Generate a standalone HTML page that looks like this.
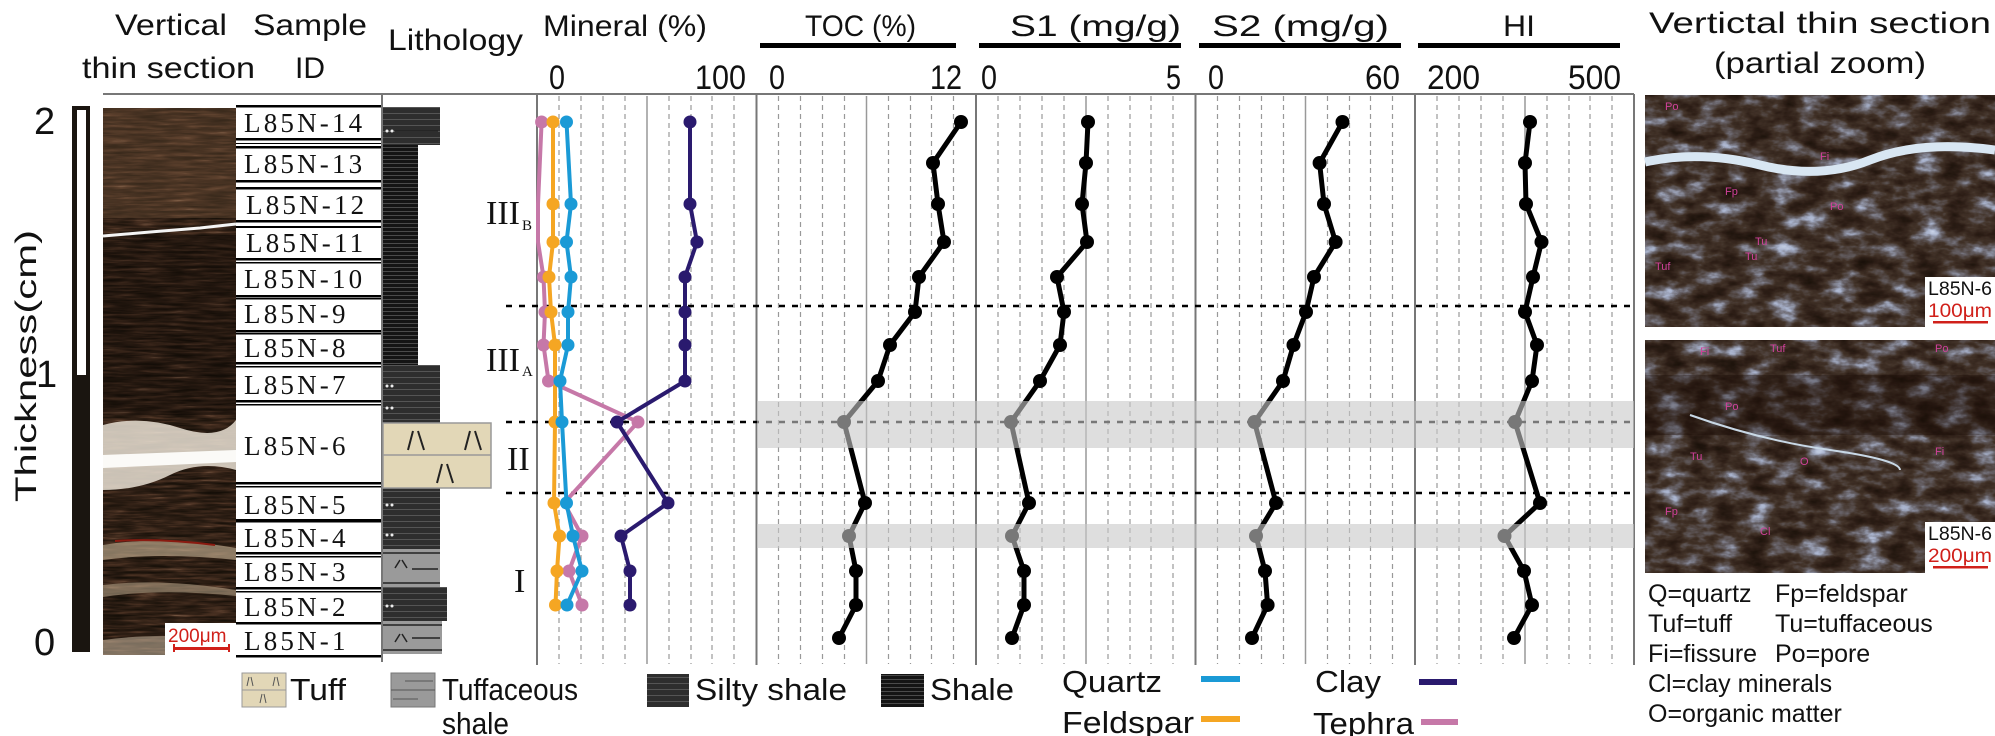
<!DOCTYPE html>
<html><head><meta charset="utf-8"><style>
html,body{margin:0;padding:0;background:#fff;}
svg{display:block;}
text{font-family:"Liberation Sans",sans-serif;fill:#111;}
text.sf{font-family:"Liberation Serif",serif;}
</style></head><body>
<svg width="1995" height="736" viewBox="0 0 1995 736" xmlns="http://www.w3.org/2000/svg">
<defs>
<filter id="texL" x="0" y="0" width="100%" height="100%" color-interpolation-filters="sRGB">
 <feTurbulence type="fractalNoise" baseFrequency="0.03 0.35" numOctaves="3" seed="5"/>
 <feColorMatrix type="matrix" values="1 0 0 0 0 1 0 0 0 0 1 0 0 0 0 0 0 0 0 1"/>
 <feComponentTransfer>
  <feFuncR type="table" tableValues="0.06 0.1 0.18 0.3 0.55"/>
  <feFuncG type="table" tableValues="0.04 0.07 0.12 0.2 0.42"/>
  <feFuncB type="table" tableValues="0.02 0.04 0.08 0.14 0.33"/>
 </feComponentTransfer>
</filter>
<filter id="texR" x="0" y="0" width="100%" height="100%" color-interpolation-filters="sRGB">
 <feTurbulence type="fractalNoise" baseFrequency="0.035 0.07" numOctaves="4" seed="3"/>
 <feColorMatrix type="matrix" values="1 0 0 0 0 1 0 0 0 0 1 0 0 0 0 0 0 0 0 1"/>
 <feComponentTransfer>
  <feFuncR type="table" tableValues="0.08 0.12 0.18 0.26 0.4 0.66 0.82"/>
  <feFuncG type="table" tableValues="0.05 0.08 0.12 0.2 0.38 0.7 0.86"/>
  <feFuncB type="table" tableValues="0.03 0.05 0.09 0.16 0.4 0.8 0.94"/>
 </feComponentTransfer>
</filter>
<pattern id="silty" width="60" height="6" patternUnits="userSpaceOnUse">
 <rect width="60" height="6" fill="#2e2e2e"/><rect y="5" width="60" height="1" fill="#555"/>
</pattern>
<pattern id="shale" width="60" height="4" patternUnits="userSpaceOnUse">
 <rect width="60" height="4" fill="#141414"/><rect y="3" width="60" height="1" fill="#4a4a4a"/>
</pattern>
</defs>

<text x="115" y="35" font-size="30" textLength="112" lengthAdjust="spacingAndGlyphs">Vertical</text>
<text x="82" y="78" font-size="30" textLength="173" lengthAdjust="spacingAndGlyphs">thin section</text>
<text x="253" y="35" font-size="30" textLength="114" lengthAdjust="spacingAndGlyphs">Sample</text>
<text x="295" y="78" font-size="30" textLength="30" lengthAdjust="spacingAndGlyphs">ID</text>
<text x="388" y="50" font-size="30" textLength="135" lengthAdjust="spacingAndGlyphs">Lithology</text>

<text x="543" y="36" font-size="30" textLength="164" lengthAdjust="spacingAndGlyphs">Mineral (%)</text>
<text x="805" y="36" font-size="30" textLength="111" lengthAdjust="spacingAndGlyphs">TOC (%)</text>
<text x="1010" y="36" font-size="30" textLength="171" lengthAdjust="spacingAndGlyphs">S1 (mg/g)</text>
<text x="1212" y="36" font-size="30" textLength="177" lengthAdjust="spacingAndGlyphs">S2 (mg/g)</text>
<text x="1503" y="36" font-size="30" textLength="32" lengthAdjust="spacingAndGlyphs">HI</text>
<g fill="#000">
<rect x="760" y="43" width="196" height="5"/>
<rect x="979" y="43" width="202" height="5"/>
<rect x="1199" y="43" width="202" height="5"/>
<rect x="1418" y="43" width="202" height="5"/>
</g>
<g font-size="34">
<text x="549" y="89" textLength="16" lengthAdjust="spacingAndGlyphs">0</text>
<text x="695" y="89" textLength="51" lengthAdjust="spacingAndGlyphs">100</text>
<text x="769" y="89" textLength="16" lengthAdjust="spacingAndGlyphs">0</text>
<text x="930" y="89" textLength="32" lengthAdjust="spacingAndGlyphs">12</text>
<text x="981" y="89" textLength="16" lengthAdjust="spacingAndGlyphs">0</text>
<text x="1166" y="89" textLength="15" lengthAdjust="spacingAndGlyphs">5</text>
<text x="1208" y="89" textLength="16" lengthAdjust="spacingAndGlyphs">0</text>
<text x="1365" y="89" textLength="35" lengthAdjust="spacingAndGlyphs">60</text>
<text x="1427" y="89" textLength="53" lengthAdjust="spacingAndGlyphs">200</text>
<text x="1568" y="89" textLength="53" lengthAdjust="spacingAndGlyphs">500</text>
</g>

<line x1="103" y1="94" x2="1634" y2="94" stroke="#777" stroke-width="2"/>

<text x="34" y="134" font-size="38">2</text>
<text x="36" y="387" font-size="38">1</text>
<text x="34" y="655" font-size="38">0</text>
<rect x="72" y="106" width="18" height="546" fill="#1a1510"/>
<rect x="77" y="110" width="9" height="265" fill="#fff"/>
<text transform="translate(36,366) rotate(-90)" font-size="30" text-anchor="middle" textLength="272" lengthAdjust="spacingAndGlyphs">Thickness(cm)</text>

<rect x="103" y="108" width="133" height="547" filter="url(#texL)"/>
<rect x="103" y="108" width="133" height="110" fill="#8a6848" opacity="0.3"/>
<rect x="103" y="235" width="133" height="180" fill="#120a06" opacity="0.3"/>
<path d="M103 236 L150 232 L200 228 L236 224" stroke="#f4f4f4" stroke-width="3" fill="none"/>
<path d="M103 425 Q140 415 180 428 T236 420 L236 470 Q200 460 170 475 T103 490 Z" fill="#e9e1d4" opacity="0.85"/>
<path d="M103 455 L236 450 L236 462 L103 468 Z" fill="#fbfaf7"/>
<path d="M103 545 Q160 535 236 548 L236 560 Q160 552 103 560 Z" fill="#cbb79a" opacity="0.6"/>
<path d="M103 585 Q160 578 236 590 L236 596 Q160 588 103 597 Z" fill="#cbb79a" opacity="0.5"/>
<path d="M103 640 Q160 632 236 640 L236 655 L103 655 Z" fill="#d8c8b0" opacity="0.5"/>
<path d="M115 541 Q160 538 215 545" stroke="#8a1a10" stroke-width="2" fill="none"/>
<rect x="165" y="623" width="71" height="32" fill="#fff"/>
<text x="168" y="642" font-size="19" style="fill:#d0201a">200μm</text>
<rect x="173" y="647" width="57" height="3" fill="#d0201a"/>
<rect x="173" y="644" width="2" height="8" fill="#d0201a"/><rect x="228" y="644" width="2" height="8" fill="#d0201a"/>

<rect x="236" y="104" width="146" height="554" fill="#fff"/>
<g fill="#000">
<rect x="236" y="105" width="146" height="2.5"/>
<rect x="236" y="138" width="146" height="2.5"/><rect x="236" y="143" width="146" height="1"/><rect x="236" y="146" width="146" height="2.5"/>
<rect x="236" y="180" width="146" height="2.5"/><rect x="236" y="187" width="146" height="2.5"/>
<rect x="236" y="220" width="146" height="2.5"/><rect x="236" y="226" width="146" height="2"/>
<rect x="236" y="258" width="146" height="2.5"/><rect x="236" y="262" width="146" height="1.5"/>
<rect x="236" y="295" width="146" height="2.5"/><rect x="236" y="298" width="146" height="1.5"/>
<rect x="236" y="330" width="146" height="2.5"/><rect x="236" y="333" width="146" height="1.5"/>
<rect x="236" y="362" width="146" height="2.5"/><rect x="236" y="366" width="146" height="1.5"/>
<rect x="236" y="400" width="146" height="2.5"/><rect x="236" y="404" width="146" height="1.5"/>
<rect x="236" y="482" width="146" height="2.5"/><rect x="236" y="486" width="146" height="1.5"/>
<rect x="236" y="519" width="146" height="3.5"/>
<rect x="236" y="552" width="146" height="2.5"/><rect x="236" y="556" width="146" height="1.5"/>
<rect x="236" y="587" width="146" height="2.5"/><rect x="236" y="591" width="146" height="1.5"/>
<rect x="236" y="622" width="146" height="2.5"/>
<rect x="236" y="655" width="146" height="2.5"/>
</g>
<g font-size="27" letter-spacing="3.2">
<text class="sf" x="244" y="132">L85N-14</text>
<text class="sf" x="244" y="173">L85N-13</text>
<text class="sf" x="246" y="214">L85N-12</text>
<text class="sf" x="246" y="252">L85N-11</text>
<text class="sf" x="244" y="288">L85N-10</text>
<text class="sf" x="244" y="323">L85N-9</text>
<text class="sf" x="244" y="357">L85N-8</text>
<text class="sf" x="244" y="394">L85N-7</text>
<text class="sf" x="244" y="455">L85N-6</text>
<text class="sf" x="244" y="514">L85N-5</text>
<text class="sf" x="244" y="547">L85N-4</text>
<text class="sf" x="244" y="581">L85N-3</text>
<text class="sf" x="244" y="616">L85N-2</text>
<text class="sf" x="244" y="650">L85N-1</text>
</g>

<line x1="382" y1="94" x2="382" y2="662" stroke="#777" stroke-width="2"/>
<rect x="383" y="107" width="57" height="38" fill="url(#silty)"/>
<rect x="383" y="145" width="35" height="220" fill="url(#shale)"/>
<rect x="383" y="365" width="57" height="58" fill="url(#silty)"/>
<rect x="383" y="488" width="57" height="61" fill="url(#silty)"/>
<rect x="383" y="549" width="57" height="38" fill="#9a9a9a"/>
<rect x="383" y="587" width="64" height="34" fill="url(#silty)"/>
<rect x="383" y="621" width="59" height="33" fill="#9a9a9a"/>
<g fill="#eee">
<circle cx="387" cy="131" r="1.5"/><circle cx="392" cy="131" r="1.5"/>
<circle cx="387" cy="386" r="1.5"/><circle cx="392" cy="386" r="1.5"/>
<circle cx="387" cy="408" r="1.5"/><circle cx="392" cy="408" r="1.5"/>
<circle cx="387" cy="505" r="1.5"/><circle cx="392" cy="505" r="1.5"/>
<circle cx="387" cy="535" r="1.5"/><circle cx="392" cy="535" r="1.5"/>
<circle cx="387" cy="606" r="1.5"/><circle cx="392" cy="606" r="1.5"/>
</g>
<g stroke="#222" stroke-width="1.5">
<line x1="395" y1="131" x2="438" y2="131"/>
<line x1="395" y1="568" x2="400" y2="560"/><line x1="402" y1="560" x2="407" y2="568"/><line x1="412" y1="569" x2="438" y2="569"/>
<line x1="383" y1="583" x2="440" y2="583"/><line x1="383" y1="553" x2="440" y2="553"/>
<line x1="395" y1="642" x2="400" y2="634"/><line x1="402" y1="634" x2="407" y2="642"/><line x1="412" y1="638" x2="440" y2="638"/>
<line x1="383" y1="650" x2="442" y2="650"/><line x1="383" y1="625" x2="442" y2="625"/>
</g>
<rect x="383" y="423" width="108" height="65" fill="#e2d7b7" stroke="#999" stroke-width="1.5"/>
<line x1="383" y1="455" x2="491" y2="455" stroke="#999" stroke-width="1.5"/>
<g stroke="#222" stroke-width="2">
<line x1="408" y1="450" x2="413" y2="431"/><line x1="418" y1="431" x2="424" y2="450"/>
<line x1="465" y1="450" x2="470" y2="431"/><line x1="475" y1="431" x2="481" y2="450"/>
<line x1="437" y1="483" x2="442" y2="464"/><line x1="447" y1="464" x2="453" y2="483"/>
</g>

<text class="sf" x="486" y="224" font-size="34">III</text>
<text class="sf" x="522" y="230" font-size="15">B</text>
<text class="sf" x="486" y="371" font-size="34">III</text>
<text class="sf" x="522" y="376" font-size="15">A</text>
<text class="sf" x="507" y="470" font-size="34">II</text>
<text class="sf" x="514" y="592" font-size="34">I</text>

<g stroke="#999" stroke-width="1.2" stroke-dasharray="5,4">
<g id="gr">
<line x1="559" y1="96" x2="559" y2="664"/><line x1="581" y1="96" x2="581" y2="664"/><line x1="603" y1="96" x2="603" y2="664"/><line x1="625" y1="96" x2="625" y2="664"/>
<line x1="669" y1="96" x2="669" y2="664"/><line x1="691" y1="96" x2="691" y2="664"/><line x1="712" y1="96" x2="712" y2="664"/><line x1="734" y1="96" x2="734" y2="664"/>
</g>
<use href="#gr" x="219.5"/><use href="#gr" x="439"/><use href="#gr" x="658.5"/><use href="#gr" x="878"/>
</g>
<g stroke="#999" stroke-width="1.5">
<line x1="647" y1="96" x2="647" y2="664"/><line x1="866.5" y1="96" x2="866.5" y2="664"/><line x1="1086" y1="96" x2="1086" y2="664"/><line x1="1305.5" y1="96" x2="1305.5" y2="664"/><line x1="1525" y1="96" x2="1525" y2="664"/>
</g>
<g stroke="#777" stroke-width="2">
<line x1="537" y1="94" x2="537" y2="665"/><line x1="756.5" y1="94" x2="756.5" y2="665"/><line x1="976" y1="94" x2="976" y2="665"/><line x1="1195.5" y1="94" x2="1195.5" y2="665"/><line x1="1415" y1="94" x2="1415" y2="665"/><line x1="1634" y1="94" x2="1634" y2="665"/>
</g>

<g stroke="#000" stroke-width="2.5" stroke-dasharray="6,7">
<line x1="506" y1="306" x2="1636" y2="306"/>
<line x1="506" y1="422" x2="1636" y2="422"/>
<line x1="506" y1="493" x2="1636" y2="493"/>
</g>

<g fill="none" stroke-width="4" stroke-linejoin="round">
<polyline stroke="#c678a8" points="541.6,122 538,204 538,242 543.5,277 545,312 543.5,345 548.5,381 638,422 564,503 582,536 569,571 582,605"/>
<polyline stroke="#f5a623" points="553,122 553,204 553,242 549,277 551,312 555,345 555,422 554,503 559.5,536 557,571 555.5,605"/>
<polyline stroke="#1a9ad6" points="566.5,122 571,204 566.5,242 571,277 568,312 568,345 560,381 562,422 566.5,503 573,536 582,571 567,605"/>
<polyline stroke="#2a1a6e" points="690,122 690,204 697,242 685,277 685,312 685,345 685,381 617,422 668,503 621,536 630,571 630,605"/>
</g>
<g fill="#c678a8">
<circle cx="541.6" cy="122" r="6.5"/><circle cx="543.5" cy="277" r="6.5"/><circle cx="545" cy="312" r="6.5"/><circle cx="543.5" cy="345" r="6.5"/><circle cx="548.5" cy="381" r="6.5"/><circle cx="638" cy="422" r="6.5"/><circle cx="582" cy="536" r="6.5"/><circle cx="569" cy="571" r="6.5"/><circle cx="582" cy="605" r="6.5"/>
</g>
<g fill="#f5a623">
<circle cx="553" cy="122" r="6.5"/><circle cx="553" cy="204" r="6.5"/><circle cx="553" cy="242" r="6.5"/><circle cx="549" cy="277" r="6.5"/><circle cx="551" cy="312" r="6.5"/><circle cx="555" cy="345" r="6.5"/><circle cx="555" cy="422" r="6.5"/><circle cx="554" cy="503" r="6.5"/><circle cx="559.5" cy="536" r="6.5"/><circle cx="557" cy="571" r="6.5"/><circle cx="555.5" cy="605" r="6.5"/>
</g>
<g fill="#1a9ad6">
<circle cx="566.5" cy="122" r="6.5"/><circle cx="571" cy="204" r="6.5"/><circle cx="566.5" cy="242" r="6.5"/><circle cx="571" cy="277" r="6.5"/><circle cx="568" cy="312" r="6.5"/><circle cx="568" cy="345" r="6.5"/><circle cx="560" cy="381" r="6.5"/><circle cx="562" cy="422" r="6.5"/><circle cx="566.5" cy="503" r="6.5"/><circle cx="573" cy="536" r="6.5"/><circle cx="582" cy="571" r="6.5"/><circle cx="567" cy="605" r="6.5"/>
</g>
<g fill="#2a1a6e">
<circle cx="690" cy="122" r="6.5"/><circle cx="690" cy="204" r="6.5"/><circle cx="697" cy="242" r="6.5"/><circle cx="685" cy="277" r="6.5"/><circle cx="685" cy="312" r="6.5"/><circle cx="685" cy="345" r="6.5"/><circle cx="685" cy="381" r="6.5"/><circle cx="617" cy="422" r="6.5"/><circle cx="668" cy="503" r="6.5"/><circle cx="621" cy="536" r="6.5"/><circle cx="630" cy="571" r="6.5"/><circle cx="630" cy="605" r="6.5"/>
</g>

<g fill="none" stroke="#000" stroke-width="5" stroke-linejoin="round">
<polyline points="961,122 933,163 938,204 944,242 919,277 915,312 890,345 878,381 844,422 865,503 849,536 856,571 856,605 839,638"/>
<polyline points="1088,122 1086,163 1082,204 1087,242 1057,277 1064,312 1060,345 1040,381 1011,422 1029,503 1012,536 1024,571 1024,605 1012,638"/>
<polyline points="1342.5,122 1319.6,163 1324,204 1335.6,242 1314,277 1306,312 1293.5,345 1283,381 1254.5,422 1276,503 1256,536 1265,571 1267.6,605 1252,638"/>
<polyline points="1530,122 1525,163 1526,204 1541.5,242 1533,277 1525,312 1537,345 1532,381 1515,422 1540,503 1504.5,536 1524,571 1532,605 1514,638"/>
</g>
<g fill="#000">
<circle cx="961" cy="122" r="7"/><circle cx="933" cy="163" r="7"/><circle cx="938" cy="204" r="7"/><circle cx="944" cy="242" r="7"/><circle cx="919" cy="277" r="7"/><circle cx="915" cy="312" r="7"/><circle cx="890" cy="345" r="7"/><circle cx="878" cy="381" r="7"/><circle cx="844" cy="422" r="7"/><circle cx="865" cy="503" r="7"/><circle cx="849" cy="536" r="7"/><circle cx="856" cy="571" r="7"/><circle cx="856" cy="605" r="7"/><circle cx="839" cy="638" r="7"/>
<circle cx="1088" cy="122" r="7"/><circle cx="1086" cy="163" r="7"/><circle cx="1082" cy="204" r="7"/><circle cx="1087" cy="242" r="7"/><circle cx="1057" cy="277" r="7"/><circle cx="1064" cy="312" r="7"/><circle cx="1060" cy="345" r="7"/><circle cx="1040" cy="381" r="7"/><circle cx="1011" cy="422" r="7"/><circle cx="1029" cy="503" r="7"/><circle cx="1012" cy="536" r="7"/><circle cx="1024" cy="571" r="7"/><circle cx="1024" cy="605" r="7"/><circle cx="1012" cy="638" r="7"/>
<circle cx="1342.5" cy="122" r="7"/><circle cx="1319.6" cy="163" r="7"/><circle cx="1324" cy="204" r="7"/><circle cx="1335.6" cy="242" r="7"/><circle cx="1314" cy="277" r="7"/><circle cx="1306" cy="312" r="7"/><circle cx="1293.5" cy="345" r="7"/><circle cx="1283" cy="381" r="7"/><circle cx="1254.5" cy="422" r="7"/><circle cx="1276" cy="503" r="7"/><circle cx="1256" cy="536" r="7"/><circle cx="1265" cy="571" r="7"/><circle cx="1267.6" cy="605" r="7"/><circle cx="1252" cy="638" r="7"/>
<circle cx="1530" cy="122" r="7"/><circle cx="1525" cy="163" r="7"/><circle cx="1526" cy="204" r="7"/><circle cx="1541.5" cy="242" r="7"/><circle cx="1533" cy="277" r="7"/><circle cx="1525" cy="312" r="7"/><circle cx="1537" cy="345" r="7"/><circle cx="1532" cy="381" r="7"/><circle cx="1515" cy="422" r="7"/><circle cx="1540" cy="503" r="7"/><circle cx="1504.5" cy="536" r="7"/><circle cx="1524" cy="571" r="7"/><circle cx="1532" cy="605" r="7"/><circle cx="1514" cy="638" r="7"/>
</g>

<rect x="757" y="401" width="877" height="47" fill="#c8c8c8" opacity="0.6"/>
<rect x="757" y="524" width="877" height="24" fill="#c8c8c8" opacity="0.6"/>

<rect x="242" y="673" width="44" height="34" fill="#e2d7b7" stroke="#999"/>
<line x1="242" y1="690" x2="286" y2="690" stroke="#999"/>
<g stroke="#555" stroke-width="1"><line x1="247" y1="686" x2="249" y2="677"/><line x1="251" y1="677" x2="253" y2="686"/><line x1="273" y1="686" x2="275" y2="677"/><line x1="277" y1="677" x2="279" y2="686"/><line x1="260" y1="703" x2="262" y2="694"/><line x1="264" y1="694" x2="266" y2="703"/></g>
<text x="290" y="700" font-size="31" textLength="56" lengthAdjust="spacingAndGlyphs">Tuff</text>
<rect x="391" y="673" width="44" height="34" fill="#9a9a9a" stroke="#777"/>
<g stroke="#555"><line x1="391" y1="690" x2="435" y2="690"/><line x1="405" y1="681" x2="433" y2="681"/><line x1="393" y1="699" x2="418" y2="699"/></g>
<text x="442" y="700" font-size="31" textLength="136" lengthAdjust="spacingAndGlyphs">Tuffaceous</text>
<text x="442" y="734" font-size="31" textLength="67" lengthAdjust="spacingAndGlyphs">shale</text>
<rect x="647" y="674" width="42" height="33" fill="url(#silty)"/>
<text x="695" y="700" font-size="31" textLength="152" lengthAdjust="spacingAndGlyphs">Silty shale</text>
<rect x="881" y="674" width="43" height="33" fill="url(#shale)"/>
<text x="930" y="700" font-size="31" textLength="84" lengthAdjust="spacingAndGlyphs">Shale</text>
<text x="1062" y="692" font-size="31" textLength="100" lengthAdjust="spacingAndGlyphs">Quartz</text>
<rect x="1201" y="676" width="39" height="6" fill="#1a9ad6"/>
<text x="1062" y="733" font-size="31" textLength="132" lengthAdjust="spacingAndGlyphs">Feldspar</text>
<rect x="1201" y="716" width="39" height="6" fill="#f5a623"/>
<text x="1315" y="692" font-size="31" textLength="66" lengthAdjust="spacingAndGlyphs">Clay</text>
<rect x="1419" y="679" width="38" height="6" fill="#2a1a6e"/>
<text x="1313" y="734" font-size="31" textLength="101" lengthAdjust="spacingAndGlyphs">Tephra</text>
<rect x="1421" y="719" width="37" height="6" fill="#c678a8"/>

<text x="1820" y="33" font-size="30" text-anchor="middle" textLength="342" lengthAdjust="spacingAndGlyphs">Vertictal thin section</text>
<text x="1820" y="73" font-size="30" text-anchor="middle" textLength="212" lengthAdjust="spacingAndGlyphs">(partial zoom)</text>

<rect x="1645" y="95" width="350" height="232" filter="url(#texR)"/>
<path d="M1645 162 Q1700 150 1760 165 T1870 160 T1995 150" stroke="#d8e6f2" stroke-width="9" fill="none"/>
<rect x="1645" y="340" width="350" height="233" filter="url(#texR)"/>
<rect x="1645" y="375" width="350" height="60" fill="#1a0c06" opacity="0.35"/>
<path d="M1690 415 Q1760 440 1830 450 T1900 470" stroke="#c8d8e6" stroke-width="2" fill="none"/>
<g font-size="11">
<text x="1665" y="110" style="fill:#d0409a">Po</text><text x="1820" y="160" style="fill:#d0409a">Fi</text><text x="1725" y="195" style="fill:#d0409a">Fp</text><text x="1830" y="210" style="fill:#d0409a">Po</text><text x="1755" y="245" style="fill:#d0409a">Tu</text><text x="1655" y="270" style="fill:#d0409a">Tuf</text><text x="1745" y="260" style="fill:#d0409a">Tu</text>
<text x="1700" y="355" style="fill:#d0409a">Fi</text><text x="1770" y="352" style="fill:#d0409a">Tuf</text><text x="1935" y="352" style="fill:#d0409a">Po</text><text x="1725" y="410" style="fill:#d0409a">Po</text><text x="1800" y="465" style="fill:#d0409a">O</text><text x="1690" y="460" style="fill:#d0409a">Tu</text><text x="1665" y="515" style="fill:#d0409a">Fp</text><text x="1760" y="535" style="fill:#d0409a">Cl</text><text x="1935" y="455" style="fill:#d0409a">Fi</text>
</g>
<rect x="1925" y="277" width="70" height="50" fill="#fff"/>
<text x="1928" y="295" font-size="19" textLength="64" lengthAdjust="spacingAndGlyphs">L85N-6</text>
<text x="1928" y="317" font-size="19" textLength="64" lengthAdjust="spacingAndGlyphs" style="fill:#d0201a">100μm</text>
<rect x="1933" y="321" width="55" height="2.5" fill="#d0201a"/>
<rect x="1925" y="522" width="70" height="51" fill="#fff"/>
<text x="1928" y="540" font-size="19" textLength="64" lengthAdjust="spacingAndGlyphs">L85N-6</text>
<text x="1928" y="562" font-size="19" textLength="64" lengthAdjust="spacingAndGlyphs" style="fill:#d0201a">200μm</text>
<rect x="1933" y="566" width="55" height="2.5" fill="#d0201a"/>

<g font-size="25">
<text x="1648" y="602">Q=quartz</text><text x="1775" y="602">Fp=feldspar</text>
<text x="1648" y="632">Tuf=tuff</text><text x="1775" y="632">Tu=tuffaceous</text>
<text x="1648" y="662">Fi=fissure</text><text x="1775" y="662">Po=pore</text>
<text x="1648" y="692">Cl=clay minerals</text>
<text x="1648" y="722">O=organic matter</text>
</g>
</svg>
</body></html>
